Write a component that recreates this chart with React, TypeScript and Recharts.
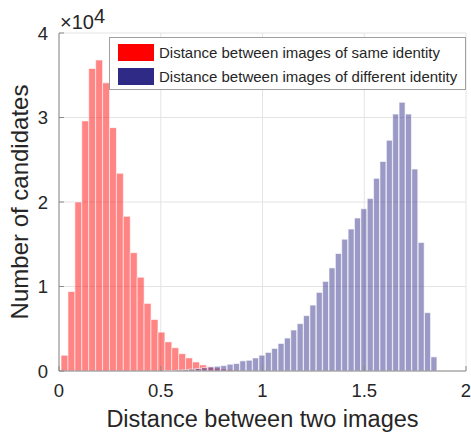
import React from "react";
import {
  Bar,
  CartesianGrid,
  ComposedChart,
  Label,
  Legend,
  XAxis,
  YAxis,
} from "recharts";

// histogram of distances, same identity (red)
const sameStart = 0.01;
const sameWidth = 0.034;
const sameCounts = [
  1870, 9400, 20000, 29600, 35800, 36800, 34100, 28800, 23400, 18300, 14000,
  11100, 8000, 6100, 4600, 3450, 2750, 2050, 1550, 1070, 720, 500, 350, 240,
  160, 100, 60, 30,
];

// histogram of distances, different identity (blue)
const diffStart = 0.513;
const diffWidth = 0.0313;
const diffCounts = [
  30, 60, 100, 160, 220, 300, 400, 480, 560, 640, 800, 880, 1200, 1270, 1550,
  1870, 2200, 2670, 3260, 3900, 4850, 5600, 6550, 7800, 9300, 10600, 12200,
  13900, 15600, 16800, 18100, 19200, 20400, 22800, 24800, 27300, 30400, 31800,
  30400, 23900, 15200, 6900, 1670,
];

const seriesNames = [
  "Distance between images of same identity",
  "Distance between images of different identity",
];
const xTicks = [0, 0.5, 1, 1.5, 2];
const yTicks = [0, 10000, 20000, 30000, 40000];

const rows = [
  ...sameCounts.map((v, i) => ({ xs: sameStart + (i + 0.5) * sameWidth, same: v })),
  ...diffCounts.map((v, i) => ({ xd: diffStart + (i + 0.5) * diffWidth, diff: v })),
];

const textColor = "#262626";
const axisColor = "#8a8a8a";

function LegendBox(props: any) {
  const items = [...(props.payload || [])].sort(
    (a: any, b: any) => seriesNames.indexOf(a.value) - seriesNames.indexOf(b.value)
  );
  return (
    <div
      style={{
        width: 357,
        height: 53,
        boxSizing: "border-box",
        border: "1px solid #a0a0a0",
        background: "#fff",
        padding: "2px 0 0 8px",
      }}
    >
      {items.map((p: any) => (
        <div key={p.value} style={{ display: "flex", alignItems: "center", height: 24 }}>
          <span style={{ display: "inline-block", width: 36, height: 17, background: p.color, marginRight: 5 }} />
          <span style={{ fontSize: 15, color: textColor, whiteSpace: "nowrap" }}>{p.value}</span>
        </div>
      ))}
    </div>
  );
}

function ExponentLabel(props: any) {
  const { viewBox } = props;
  const x = viewBox.x + viewBox.width + 1;
  return (
    <text x={x} y={viewBox.y - 4} fill={textColor} fontSize={20}>
      ×10
      <tspan dy={-6}>4</tspan>
    </text>
  );
}

function YTitle(props: any) {
  const { viewBox } = props;
  const cy = viewBox.y + viewBox.height / 2;
  return (
    <text
      x={0}
      y={0}
      transform={`translate(${viewBox.x + 28},${cy}) rotate(-90)`}
      textAnchor="middle"
      fill={textColor}
      fontSize={24}
    >
      Number of candidates
    </text>
  );
}

function XTitle(props: any) {
  const { viewBox } = props;
  return (
    <text
      x={viewBox.x + viewBox.width / 2}
      y={viewBox.y + 56}
      textAnchor="middle"
      fill={textColor}
      fontSize={23.5}
    >
      Distance between two images
    </text>
  );
}

export default function App() {
  return (
    <div
      style={{
        position: "absolute",
        left: 0,
        top: 0,
        fontFamily: "'Liberation Sans', Arial, sans-serif",
      }}
    >
      <ComposedChart
        width={471}
        height={436}
        data={rows}
        margin={{ top: 33, right: 5, bottom: 0, left: 0 }}
        barCategoryGap={0}
        barGap={0}
      >
        <CartesianGrid xAxisId="same" yAxisId="left" stroke="#e4e4e4" />
        <XAxis xAxisId="diff" dataKey="xd" type="number" domain={[0, 2]} height={0} hide />
        <XAxis
          xAxisId="same"
          dataKey="xs"
          type="number"
          domain={[0, 2]}
          ticks={xTicks}
          height={65}
          stroke={axisColor}
          tickSize={-5}
          tickMargin={18}
          tick={{ fill: textColor, fontSize: 18.5 }}
        >
          <Label content={XTitle} />
        </XAxis>
        <XAxis
          xAxisId="top"
          orientation="top"
          type="number"
          domain={[0, 2]}
          ticks={xTicks}
          height={0}
          stroke={axisColor}
          tickSize={-5}
          tick={false}
        />
        <YAxis
          yAxisId="left"
          domain={[0, 40000]}
          ticks={yTicks}
          width={59}
          stroke={axisColor}
          tickSize={-5}
          tickMargin={16}
          tickFormatter={(v: number) => String(v / 10000)}
          tick={{ fill: textColor, fontSize: 18.5 }}
        >
          <Label content={ExponentLabel} />
          <Label content={YTitle} />
        </YAxis>
        <YAxis
          yAxisId="right"
          orientation="right"
          domain={[0, 40000]}
          ticks={yTicks}
          width={0}
          stroke={axisColor}
          tickSize={-5}
          tick={false}
        />
        <Bar
          xAxisId="same"
          yAxisId="left"
          dataKey="same"
          name={seriesNames[0]}
          fill="#ff0000"
          fillOpacity={0.48}
          stroke="#ffffff"
          strokeOpacity={0.6}
          legendType="rect"
          isAnimationActive={false}
        />
        <Bar
          xAxisId="diff"
          yAxisId="left"
          dataKey="diff"
          name={seriesNames[1]}
          fill="#2e2a85"
          fillOpacity={0.48}
          stroke="#ffffff"
          strokeOpacity={0.6}
          legendType="rect"
          isAnimationActive={false}
        />
        <Legend
          layout="horizontal"
          align="center"
          verticalAlign="middle"
          content={LegendBox}
          wrapperStyle={{ left: 109, top: 37, width: 357 }}
        />
      </ComposedChart>
    </div>
  );
}
